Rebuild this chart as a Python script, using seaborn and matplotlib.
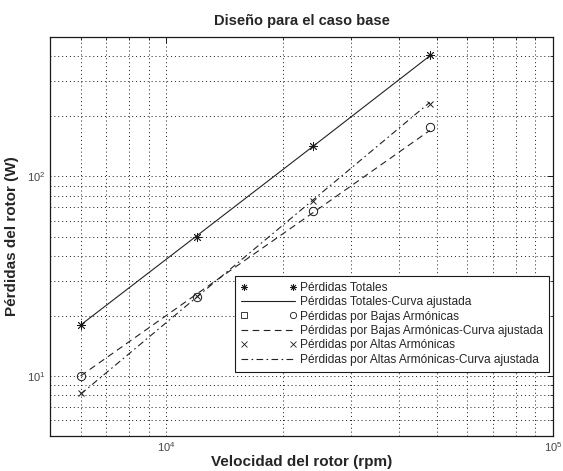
import matplotlib
matplotlib.use("Agg")
import matplotlib.pyplot as plt
import seaborn as sns
import numpy as np
import pandas as pd
from matplotlib.lines import Line2D
from matplotlib.legend_handler import HandlerBase
from matplotlib.ticker import LogLocator, NullFormatter, LogFormatterSciNotation

# ---- data ----
speed_rpm = [6000, 12000, 24000, 48000]
loss_total = [18.0, 50.0, 142.0, 405.0]
loss_low = [10.0, 25.0, 67.0, 177.0]
loss_high = [8.2, 25.2, 75.5, 231.0]
fit_total = [18.0, 50.5, 142.0, 402.0]
fit_low = [10.0, 25.8, 66.0, 170.0]
fit_high = [8.1, 24.9, 76.5, 235.0]

title = "Diseño para el caso base"
xlabel = "Velocidad del rotor (rpm)"
ylabel = "Pérdidas del rotor (W)"
legend_labels = [
    "Pérdidas Totales",
    "Pérdidas Totales-Curva ajustada",
    "Pérdidas por Bajas Armónicas",
    "Pérdidas por Bajas Armónicas-Curva ajustada",
    "Pérdidas por Altas Armónicas",
    "Pérdidas por Altas Armónicas-Curva ajustada",
]

sns.set_theme(style="white")
plt.rcParams["font.family"] = ["Liberation Sans", "DejaVu Sans"]

fig = plt.figure(figsize=(5.63, 4.71), dpi=100)
ax = fig.add_axes([0.0888, 0.0743, 0.8934, 0.8471])

df = pd.DataFrame({"x": speed_rpm, "tot": loss_total, "low": loss_low, "high": loss_high,
                   "ftot": fit_total, "flow": fit_low, "fhigh": fit_high})

lc = "#222222"
sns.lineplot(data=df, x="x", y="ftot", ax=ax, color=lc, lw=0.8, linestyle="-")
sns.lineplot(data=df, x="x", y="flow", ax=ax, color=lc, lw=0.8, linestyle=(0, (6, 4)))
sns.lineplot(data=df, x="x", y="fhigh", ax=ax, color=lc, lw=0.8, linestyle=(0, (6, 3, 1.5, 3)))

star = (8, 2, 0)
sns.lineplot(data=df, x="x", y="tot", ax=ax, linestyle="none", marker=star, color="k",
             markersize=6.5, markeredgecolor="k", markerfacecolor="k", markeredgewidth=0.6)
sns.lineplot(data=df, x="x", y="low", ax=ax, linestyle="none", marker="o", color="k",
             markersize=6, markerfacecolor="none", markeredgecolor="k", markeredgewidth=0.7)
sns.lineplot(data=df, x="x", y="high", ax=ax, linestyle="none", marker="x", color="k",
             markersize=5, markeredgecolor="k", markeredgewidth=0.7)

ax.set_xscale("log")
ax.set_yscale("log")
ax.set_xlim(5000, 100000)
ax.set_ylim(5, 500)

ax.xaxis.set_major_locator(LogLocator(base=10))
ax.yaxis.set_major_locator(LogLocator(base=10))
ax.xaxis.set_minor_locator(LogLocator(base=10, subs=np.arange(2, 10)))
ax.yaxis.set_minor_locator(LogLocator(base=10, subs=np.arange(2, 10)))
ax.xaxis.set_minor_formatter(NullFormatter())
ax.yaxis.set_minor_formatter(NullFormatter())
ax.xaxis.set_major_formatter(LogFormatterSciNotation())
ax.yaxis.set_major_formatter(LogFormatterSciNotation())

ax.grid(True, which="both", linestyle=(0, (1, 3)), color="k", linewidth=0.7)
ax.tick_params(which="both", direction="in", top=True, right=True, colors="k",
               labelcolor="#444444", labelsize=8, pad=3)
ax.tick_params(which="major", length=4, width=0.7)
ax.tick_params(which="minor", length=2, width=0.6)
for s in ax.spines.values():
    s.set_color("k")
    s.set_linewidth(0.9)

ax.set_title(title, fontsize=10.5, fontweight="bold", pad=9)
ax.set_xlabel(xlabel, fontsize=11, fontweight="bold", labelpad=1)
ax.set_ylabel(ylabel, fontsize=11, fontweight="bold", labelpad=6)


class TwoMarker(HandlerBase):
    def __init__(self, left, right, ms):
        super().__init__()
        self.left, self.right, self.ms = left, right, ms

    def create_artists(self, legend, orig_handle, xdescent, ydescent, width, height,
                       fontsize, trans):
        y = height / 2 - ydescent
        arts = []
        for mk, xx in ((self.left, -xdescent + 0.06 * width), (self.right, -xdescent + 0.95 * width)):
            face = "none" if mk in ("o", "s") else "k"
            l = Line2D([xx], [y], marker=mk, linestyle="none", color="k",
                       markerfacecolor=face, markeredgecolor="k",
                       markersize=self.ms, markeredgewidth=0.6)
            l.set_transform(trans)
            arts.append(l)
        return arts


h_tot = Line2D([], [], marker=star, ls="none", color="k")
h_ftot = Line2D([], [], color=lc, lw=0.8, ls="-")
h_low = Line2D([], [], marker="o", ls="none", color="k")
h_flow = Line2D([], [], color=lc, lw=0.8, ls=(0, (6, 4)))
h_high = Line2D([], [], marker="x", ls="none", color="k")
h_fhigh = Line2D([], [], color=lc, lw=0.8, ls=(0, (6, 3, 1.5, 3)))

leg = ax.legend([h_tot, h_ftot, h_low, h_flow, h_high, h_fhigh], legend_labels,
                handler_map={h_tot: TwoMarker(star, star, 5),
                             h_low: TwoMarker("s", "o", 4.5),
                             h_high: TwoMarker("x", "x", 4)},
                loc="lower right", bbox_to_anchor=(0.997, 0.155), fontsize=8.6,
                handlelength=4.6, handletextpad=0.4, labelspacing=0.2,
                borderpad=0.5, borderaxespad=0.2, frameon=True, fancybox=False,
                framealpha=1, edgecolor="k")
leg.get_frame().set_linewidth(0.8)

fig.savefig("out.png", dpi=100)
